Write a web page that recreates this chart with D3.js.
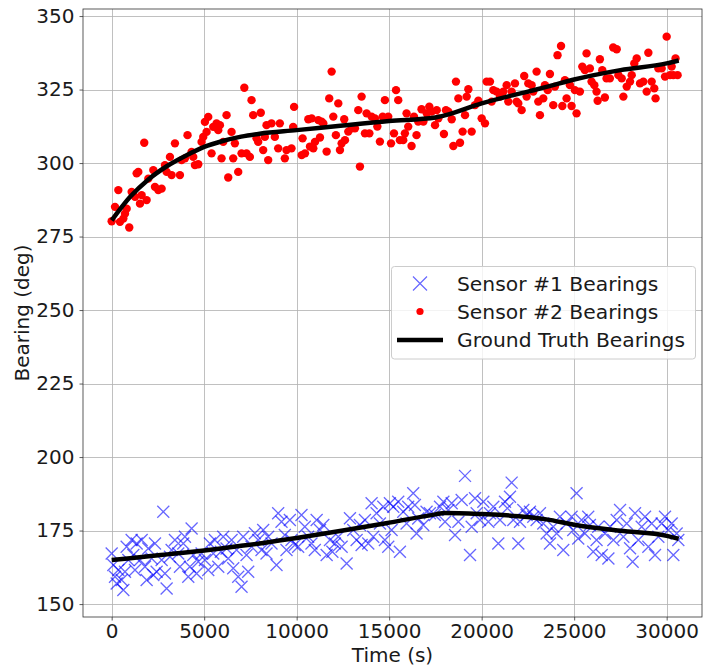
<!DOCTYPE html>
<meta charset="utf-8">
<script src="https://cdn.jsdelivr.net/npm/d3@7"></script>
<style type="text/css">
body { margin: 0; background: #fff; }
text { font-family: "DejaVu Sans", sans-serif; fill: #1a1a1a; }
.grid line { stroke: #b0b0b0; stroke-width: 0.8; shape-rendering: crispEdges; }
.axis path, .axis line { stroke: #333; stroke-width: 0.8; }
.axis text { font-size: 20px; }
.label { font-size: 20px; }
.legend text { font-size: 20.3px; }
</style>
<body>
<div id="container"></div>
<script>

//-----------------------------DATA-----------------------------//
// sensor #1 (blue x)
var s1Time = [0,90,180,270,360,540,630,720,810,900,1080,1170,1260,1350,1530,1620,1800,1890,1980,2160,
  2250,2340,2430,2700,2790,2880,2970,3150,3240,3420,3600,3690,3870,3960,4140,4230,4320,4410,4590,4680,
  4860,5040,5220,5310,5490,5580,5760,5900,6030,6210,6300,6480,6570,6750,6840,7020,7110,7290,7380,7560,
  7740,7920,8100,8190,8370,8460,8640,8910,9000,9180,9360,9450,9630,9720,9900,10080,10260,10440,10620,10800,
  10980,11080,11260,11440,11620,11800,11930,12070,12250,12430,12700,12880,13060,13240,13420,13510,13690,13870,14050,14140,
  14320,14500,14680,14770,14950,15040,15130,15220,15490,15580,15760,15940,16030,16300,16390,16480,16570,16840,17020,17200,
  17470,17750,17930,18020,18200,18380,18560,18740,18920,19100,19370,19460,19640,19730,19910,20090,20360,20450,20630,20900,
  20990,21260,21390,21530,21620,21710,21980,22070,22250,22430,22610,22790,22970,23150,23330,23510,23690,23870,24050,24230,
  24410,24590,24860,24950,25130,25220,25400,25580,25760,25850,26030,26210,26300,26490,26670,26850,26940,27120,27300,27480,
  27660,27840,28020,28160,28290,28470,28650,28830,29010,29190,29370,29550,29730,29910,30090,30270,30360,30540,30630];
var s1Bearing = [167.2,163.3,159.3,157.0,161.6,158.2,154.8,161.0,169.5,165.0,171.8,166.7,161.6,170.6,165.0,171.8,162.7,158.2,168.9,165.5,
  159.9,170.6,161.0,165.0,181.4,160.4,155.3,166.1,168.4,171.8,167.2,162.7,170.6,172.9,159.3,162.7,175.7,166.7,160.4,164.4,
  167.2,165.0,161.6,170.6,167.2,171.8,162.7,167.8,172.9,168.9,165.5,171.8,162.2,168.4,159.3,155.9,172.9,166.7,161.0,169.5,
  174.1,171.8,168.4,175.2,167.2,172.9,170.6,163.3,180.9,178.0,173.5,168.4,178.6,171.8,170.1,169.5,180.3,176.3,172.9,170.6,
  168.4,178.6,175.2,176.9,166.7,171.8,167.8,170.6,172.9,169.5,163.8,179.2,175.2,171.8,176.9,170.1,178.6,170.6,184.3,172.9,
  180.9,177.4,183.1,171.8,169.5,184.3,175.2,183.1,184.8,167.8,181.4,177.4,183.1,187.7,183.7,174.0,179.1,176.9,181.4,180.9,
  180.3,183.1,184.8,178.0,182.0,184.3,173.5,178.0,185.4,193.6,166.7,176.3,186.0,180.9,178.6,184.8,178.0,180.9,183.1,170.6,
  178.6,184.8,182.6,186.5,191.3,178.6,170.6,178.0,182.0,180.3,181.4,179.7,178.6,180.9,177.4,174.0,170.6,176.3,174.0,179.7,
  168.4,177.4,179.7,175.2,187.7,172.3,178.6,174.0,179.7,176.9,167.8,171.8,176.3,166.7,174.0,165.5,176.3,171.8,178.6,182.0,
  172.9,177.4,169.0,164.4,180.9,171.8,176.3,179.7,169.5,177.4,166.7,172.9,177.4,179.7,175.2,177.4,166.7,174.0,171.8];

// sensor #2 (red dots)
var s2Time = [0,180,360,450,630,720,810,950,1080,1260,1350,1440,1530,1620,1760,1890,1980,2250,2340,2520,
  2700,2880,2970,3150,3240,3420,3690,3780,3960,4100,4320,4410,4500,4680,4860,4950,5040,5130,5220,5400,
  5490,5670,5760,5850,5940,6030,6210,6300,6480,6570,6660,6840,7020,7170,7290,7470,7560,7650,7830,7920,
  8060,8190,8280,8370,8460,8640,8820,9000,9090,9360,9450,9720,9810,9860,10270,10320,10450,10630,10720,10810,
  10900,10990,11170,11260,11350,11440,11620,11760,11890,11980,12120,12250,12340,12430,12570,12610,12790,12970,13150,13330,
  13420,13510,13690,13780,13930,14050,14230,14360,14500,14650,14770,14950,15100,15260,15370,15490,15580,15760,15850,15940,
  16030,16210,16340,16480,16570,16750,16850,17030,17170,17300,17480,17570,17660,17960,18070,18200,18380,18470,18610,18740,
  18830,18970,19100,19190,19280,19460,19640,19820,20000,20180,20270,20450,20540,20630,20810,20990,21170,21350,21440,21620,
  21800,21890,21980,22160,22300,22430,22520,22700,22790,22970,23060,23150,23330,23420,23570,23690,23870,23960,24100,24290,
  24360,24500,24590,24770,24860,25040,25130,25310,25440,25580,25670,25850,25940,26090,26210,26270,26390,26520,26660,26750,
  26930,27110,27300,27390,27570,27660,27840,28020,28110,28250,28380,28560,28740,28920,29010,29190,29330,29400,29550,29730,
  29910,30000,30180,30270,30360,30480,30590];
var s2Bearing = [280.2,285.1,290.8,280.0,281.1,282.8,284.5,278.1,290.2,288.5,296.5,297.0,286.2,289.1,306.9,287.4,294.7,297.6,291.9,290.8,
  291.3,299.3,297.0,302.1,295.9,306.7,295.9,301.0,301.6,309.5,303.8,302.1,299.3,299.6,307.2,308.9,314.0,310.6,315.7,303.3,
  312.3,313.5,311.2,312.9,301.6,307.2,316.3,295.1,310.6,301.6,306.7,297.0,303.3,325.6,303.3,302.1,321.4,316.3,308.4,307.2,
  317.1,304.4,308.9,312.9,301.0,313.5,308.9,305.0,313.5,301.6,304.4,305.0,312.3,319.1,302.7,308.4,303.3,314.9,305.6,315.2,
  305.0,307.2,314.6,308.7,314.1,313.5,303.9,322.0,331.1,315.8,309.5,320.3,304.4,306.7,314.9,307.8,310.7,311.8,311.8,318.0,
  298.8,322.6,310.1,316.9,310.1,315.8,315.2,312.4,307.3,315.8,321.4,315.8,306.7,310.1,324.8,321.4,307.8,307.8,310.1,316.9,
  312.4,305.8,315.8,309.5,314.1,318.3,314.1,316.9,319.2,317.5,312.9,318.0,315.2,309.9,318.0,317.5,314.9,305.8,327.7,322.0,
  306.9,310.7,316.3,322.6,325.1,310.7,319.7,321.2,315.2,313.5,327.7,327.7,320.9,324.8,324.3,322.6,324.3,326.5,320.9,324.3,
  327.1,320.9,320.3,318.0,329.6,322.6,327.1,326.5,324.3,331.1,320.9,316.3,322.0,326.5,324.8,330.3,319.7,326.0,336.7,339.8,
  319.4,328.2,322.0,326.5,319.4,324.8,316.9,324.3,332.8,331.6,337.3,332.2,327.7,326.5,324.3,321.2,335.3,331.6,322.3,328.8,
  328.8,339.3,338.7,329.9,328.8,322.6,326.0,327.7,329.9,333.9,335.6,327.1,327.7,324.3,337.5,327.7,325.4,322.0,332.2,332.2,
  329.4,343.0,329.9,332.8,329.9,335.6,329.9];

// ground truth
var truthTime = [0,1000,2000,3000,4000,5000,6000,7000,8000,10000,12500,15000,17500,18000,20000,22500,23500,25000,27500,30000,30650];
var truth1Bearing = [165.0,165.6,166.3,166.9,167.5,168.2,169.0,169.8,170.6,172.5,175.0,177.7,180.5,181.0,180.6,179.6,178.8,177.0,174.9,173.2,172.2];
var truth2Bearing = [280.5,288.5,294.5,299.0,302.5,305.5,307.5,309.0,310.0,311.2,312.8,314.3,315.5,316.2,320.3,324.3,325.9,328.4,331.6,333.9,334.9];

var xTicks = [0,5000,10000,15000,20000,25000,30000];
var yTicks = [150,175,200,225,250,275,300,325,350];

//---------------------------LAYOUT-----------------------------//
var W = 703, H = 666;
var plot = {left: 83, right: 702, top: 9, bottom: 617};

var svg = d3.select("#container").append("svg")
    .attr("width", W)
    .attr("height", H);

//----------------------------SCALES----------------------------//
var xScale = d3.scaleLinear().domain([-1550, 31910]).range([plot.left, plot.right]);
var yScale = d3.scaleLinear().domain([145.6, 352.4]).range([plot.bottom, plot.top]);

//-----------------------------GRID-----------------------------//
var grid = svg.append("g").attr("class", "grid");
grid.selectAll(".gx").data(xTicks).enter().append("line")
    .attr("x1", function(d) { return Math.round(xScale(d)) + 0.5; })
    .attr("x2", function(d) { return Math.round(xScale(d)) + 0.5; })
    .attr("y1", plot.top).attr("y2", plot.bottom);
grid.selectAll(".gy").data(yTicks).enter().append("line")
    .attr("y1", function(d) { return Math.round(yScale(d)) + 0.5; })
    .attr("y2", function(d) { return Math.round(yScale(d)) + 0.5; })
    .attr("x1", plot.left).attr("x2", plot.right);

//----------------------------MARKS-----------------------------//
var cs = 6; // half size of the x marker
svg.append("g").selectAll("path")
    .data(s1Time)
    .enter()
    .append("path")
    .attr("d", function(d, i) {
        var cx = xScale(d), cy = yScale(s1Bearing[i]);
        return "M" + (cx - cs) + "," + (cy - cs) + "L" + (cx + cs) + "," + (cy + cs) +
               "M" + (cx - cs) + "," + (cy + cs) + "L" + (cx + cs) + "," + (cy - cs);
    })
    .style("stroke", "blue")
    .style("stroke-opacity", 0.6)
    .style("stroke-width", 1.3)
    .style("fill", "none");

svg.append("g").selectAll("circle")
    .data(s2Time)
    .enter()
    .append("circle")
    .attr("cx", function(d) { return xScale(d); })
    .attr("cy", function(d, i) { return yScale(s2Bearing[i]); })
    .attr("r", 4.2)
    .style("fill", "red");

var line1 = d3.line()
    .x(function(d, i) { return xScale(truthTime[i]); })
    .y(function(d) { return yScale(d); })
    .curve(d3.curveMonotoneX);

[truth1Bearing, truth2Bearing].forEach(function(series) {
    svg.append("path")
        .attr("d", line1(series))
        .style("fill", "none")
        .style("stroke", "black")
        .style("stroke-width", 4.5)
        .style("stroke-linecap", "butt");
});

//-----------------------------AXES-----------------------------//
var xaxis = d3.axisBottom(xScale).tickValues(xTicks).tickFormat(d3.format("d")).tickSize(3.5).tickPadding(3.5);
var yaxis = d3.axisLeft(yScale).tickValues(yTicks).tickFormat(d3.format("d")).tickSize(3.5).tickPadding(5);

var gx = svg.append("g")
    .attr("class", "axis")
    .attr("transform", "translate(0," + plot.bottom + ")")
    .call(xaxis);
gx.select(".domain").remove();

var gy = svg.append("g")
    .attr("class", "axis")
    .attr("transform", "translate(" + plot.left + ",0)")
    .call(yaxis);
gy.select(".domain").remove();

// spines
svg.append("rect")
    .attr("x", plot.left).attr("y", plot.top)
    .attr("width", plot.right - plot.left).attr("height", plot.bottom - plot.top)
    .style("fill", "none").style("stroke", "#333").style("stroke-width", 0.8);

svg.append("text")
    .attr("class", "label")
    .attr("x", (plot.left + plot.right) / 2)
    .attr("y", 662)
    .style("text-anchor", "middle")
    .text("Time (s)");

svg.append("text")
    .attr("class", "label")
    .attr("transform", "translate(29," + ((plot.top + plot.bottom) / 2) + ") rotate(-90)")
    .style("text-anchor", "middle")
    .text("Bearing (deg)");

//----------------------------LEGEND----------------------------//
var legend = svg.append("g").attr("class", "legend");
legend.append("rect")
    .attr("x", 391.5).attr("y", 266.5)
    .attr("width", 304).attr("height", 92.5)
    .attr("rx", 3)
    .style("fill", "white").style("fill-opacity", 0.8)
    .style("stroke", "#cccccc").style("stroke-width", 1);

var rows = [283.5, 311.5, 340];
var lx = 420;
legend.append("path")
    .attr("d", "M" + (lx - 7) + "," + (rows[0] - 7) + "L" + (lx + 7) + "," + (rows[0] + 7) +
               "M" + (lx - 7) + "," + (rows[0] + 7) + "L" + (lx + 7) + "," + (rows[0] - 7))
    .style("stroke", "blue").style("stroke-opacity", 0.6).style("stroke-width", 1.2);
legend.append("circle")
    .attr("cx", lx).attr("cy", rows[1]).attr("r", 3.6)
    .style("fill", "red");
legend.append("line")
    .attr("x1", 397).attr("x2", 443)
    .attr("y1", rows[2]).attr("y2", rows[2])
    .style("stroke", "black").style("stroke-width", 4.5);

var names = ["Sensor #1 Bearings", "Sensor #2 Bearings", "Ground Truth Bearings"];
legend.selectAll(".lt").data(names).enter().append("text")
    .attr("x", 457)
    .attr("y", function(d, i) { return rows[i]; })
    .attr("dy", "0.35em")
    .text(function(d) { return d; });

</script>
</body>
